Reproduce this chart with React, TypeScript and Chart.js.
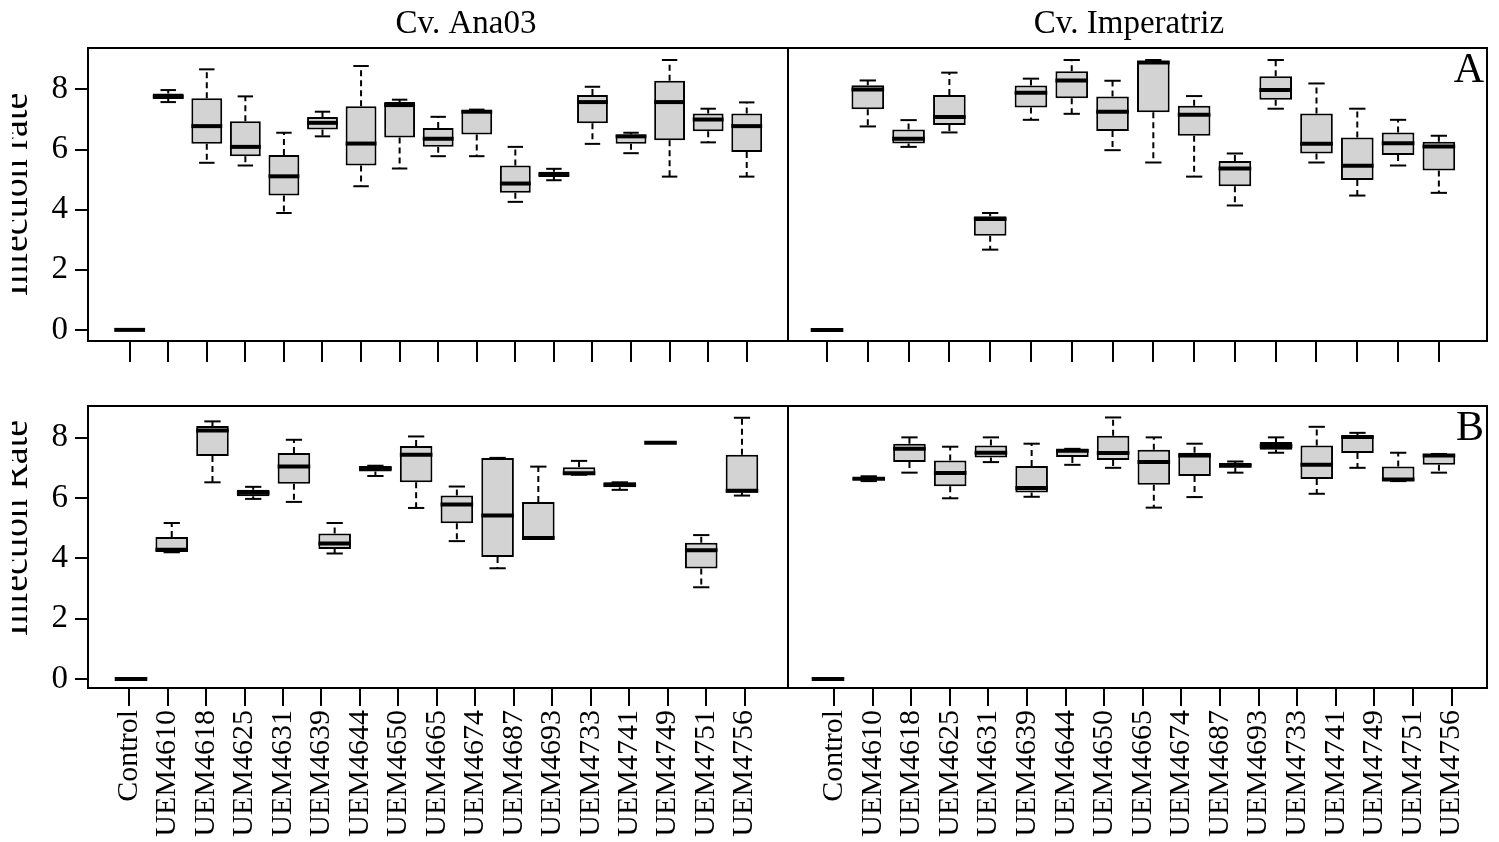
import React, { useEffect, useRef } from "react";
import { Chart, registerables } from "chart.js";

Chart.register(...registerables);

// ---------- data ----------
const CATEGORIES = [
  "Control", "UEM4610", "UEM4618", "UEM4625", "UEM4631", "UEM4639", "UEM4644", "UEM4650",
  "UEM4665", "UEM4674", "UEM4687", "UEM4693", "UEM4733", "UEM4741", "UEM4749", "UEM4751", "UEM4756",
];
const Y_TICKS = [0, 2, 4, 6, 8];
const CULTIVARS = ["Cv. Ana03", "Cv. Imperatriz"];
const PANEL_LETTERS = ["A", "B"];
const Y_TITLES = ["Infection rate", "\u00A0\u00A0\u00A0\u00A0Infection Rate"];

// Panel A, Cv. Ana03 (17 groups)
const A_ANA_LOW = [0, 7.58, 5.56, 5.47, 3.89, 6.44, 4.78, 5.37, 5.78, 5.78, 4.26, 4.98, 6.19, 5.88, 5.1, 6.24, 5.1];
const A_ANA_Q1 = [0, 7.68, 6.19, 5.78, 4.47, 6.67, 5.47, 6.4, 6.09, 6.5, 4.56, 5.09, 6.88, 6.19, 6.31, 6.61, 5.92];
const A_ANA_MED = [0, 7.76, 6.78, 6.09, 5.11, 6.89, 6.2, 7.48, 6.36, 7.26, 4.87, 5.17, 7.58, 6.44, 7.58, 7.0, 6.78];
const A_ANA_Q3 = [0, 7.87, 7.71, 6.94, 5.82, 7.08, 7.44, 7.58, 6.72, 7.3, 5.47, 5.26, 7.82, 6.5, 8.29, 7.2, 7.2];
const A_ANA_HIGH = [0, 7.98, 8.67, 7.77, 6.56, 7.26, 8.78, 7.66, 7.09, 7.33, 6.09, 5.36, 8.09, 6.56, 8.98, 7.36, 7.57];

// Panel A, Cv. Imperatriz (16 groups)
const A_IMP_LOW = [0, 6.77, 6.09, 6.57, 2.67, 6.99, 7.19, 5.98, 5.57, 5.1, 4.14, 7.36, 5.57, 4.47, 5.47, 4.56];
const A_IMP_Q1 = [0, 7.34, 6.2, 6.82, 3.13, 7.4, 7.71, 6.62, 7.24, 6.46, 4.78, 7.66, 5.87, 4.99, 5.82, 5.3];
const A_IMP_MED = [0, 8.0, 6.36, 7.08, 3.69, 7.89, 8.3, 7.26, 8.9, 7.16, 5.37, 7.98, 6.19, 5.46, 6.21, 6.1];
const A_IMP_Q3 = [0, 8.14, 6.67, 7.82, 3.78, 8.13, 8.61, 7.77, 8.95, 7.46, 5.62, 8.44, 7.2, 6.4, 6.57, 6.26];
const A_IMP_HIGH = [0, 8.3, 6.98, 8.56, 3.89, 8.36, 8.98, 8.29, 8.98, 7.78, 5.87, 8.98, 8.2, 7.36, 6.99, 6.46];

// Panel B, Cv. Ana03 (16 boxes)
const B_ANA_LOW = [0, 4.2, 6.52, 5.97, 5.87, 4.16, 6.73, 5.67, 4.57, 3.67, 4.64, 6.77, 6.27, 7.83, 3.04, 6.08];
const B_ANA_Q1 = [0, 4.21, 7.39, 6.06, 6.47, 4.31, 6.88, 6.52, 5.16, 4.04, 4.64, 6.77, 6.36, 7.83, 3.66, 6.17];
const B_ANA_MED = [0, 4.28, 8.24, 6.17, 7.04, 4.49, 6.98, 7.43, 5.78, 5.42, 4.67, 6.82, 6.44, 7.83, 4.27, 6.24];
const B_ANA_Q3 = [0, 4.71, 8.39, 6.27, 7.49, 4.82, 7.06, 7.72, 6.08, 7.33, 5.87, 7.02, 6.52, 7.83, 4.52, 7.43];
const B_ANA_HIGH = [0, 5.17, 8.54, 6.37, 7.93, 5.17, 7.07, 8.04, 6.38, 7.33, 7.04, 7.23, 6.52, 7.83, 4.77, 8.66];

// Panel B, Cv. Imperatriz (16 boxes)
const B_IMP_LOW = [0, 6.56, 6.84, 5.99, 7.19, 6.04, 7.1, 7.0, 5.68, 6.03, 6.84, 7.5, 6.14, 7.0, 6.56, 6.84];
const B_IMP_Q1 = [0, 6.6, 7.19, 6.39, 7.34, 6.18, 7.36, 7.26, 6.44, 6.73, 7.0, 7.6, 6.63, 7.49, 6.58, 7.1];
const B_IMP_MED = [0, 6.64, 7.63, 6.83, 7.5, 6.33, 7.57, 7.49, 7.19, 7.41, 7.08, 7.72, 7.1, 8.02, 6.61, 7.41];
const B_IMP_Q3 = [0, 6.68, 7.8, 7.24, 7.74, 7.06, 7.62, 8.06, 7.6, 7.5, 7.16, 7.86, 7.74, 8.06, 7.04, 7.46];
const B_IMP_HIGH = [0, 6.72, 8.01, 7.7, 8.01, 7.8, 7.63, 8.67, 8.01, 7.8, 7.21, 8.01, 8.36, 8.16, 7.5, 7.46];

// ---------- layout / style ----------
const W = 1499;
const H = 842;
const FONT = '"Liberation Serif", "Times New Roman", serif';

type Stats = { low: number[]; q1: number[]; med: number[]; q3: number[]; high: number[] };
type TextItem = { text: string; x: number; y: number; size: number; align: CanvasTextAlign };
type Panel = {
  stats: Stats;
  ox: number; // page x where this panel's canvas starts
  area: { left: number; top: number; right: number; bottom: number }; // page coords
  boxRange: [number, number];
  tickRange: [number, number];
  tickLabels: string[];
  showLabels: boolean;
  xAxisH: number;
  yRange: [number, number];
  showY: boolean;
  yTitle: string;
  tickLen: number;
  texts: TextItem[];
};

const PANELS: Panel[] = [
  {
    stats: { low: A_ANA_LOW, q1: A_ANA_Q1, med: A_ANA_MED, q3: A_ANA_Q3, high: A_ANA_HIGH },
    ox: 12,
    area: { left: 88, top: 48, right: 788, bottom: 341 },
    boxRange: [-1.08, 17.07],
    tickRange: [-1.08, 17.07],
    tickLabels: CATEGORIES,
    showLabels: false,
    xAxisH: 22,
    yRange: [-0.37, 9.38],
    showY: true,
    yTitle: Y_TITLES[0],
    tickLen: 21,
    texts: [{ text: CULTIVARS[0], x: 466, y: 33, size: 33, align: "center" }],
  },
  {
    stats: { low: A_IMP_LOW, q1: A_IMP_Q1, med: A_IMP_MED, q3: A_IMP_Q3, high: A_IMP_HIGH },
    ox: 0,
    area: { left: 788, top: 48, right: 1487, bottom: 341 },
    boxRange: [-0.956, 16.18],
    tickRange: [-0.956, 16.18],
    tickLabels: CATEGORIES.slice(0, A_IMP_MED.length),
    showLabels: false,
    xAxisH: 22,
    yRange: [-0.37, 9.38],
    showY: false,
    yTitle: "",
    tickLen: 21,
    texts: [
      { text: CULTIVARS[1], x: 1129, y: 33, size: 33, align: "center" },
      { text: PANEL_LETTERS[0], x: 1484, y: 82, size: 42, align: "right" },
    ],
  },
  {
    stats: { low: B_ANA_LOW, q1: B_ANA_Q1, med: B_ANA_MED, q3: B_ANA_Q3, high: B_ANA_HIGH },
    ox: 12,
    area: { left: 88, top: 406, right: 788, bottom: 688 },
    boxRange: [-1.056, 16.13],
    tickRange: [-1.07, 17.13],
    tickLabels: CATEGORIES,
    showLabels: true,
    xAxisH: 150,
    yRange: [-0.3, 9.05],
    showY: true,
    yTitle: Y_TITLES[1],
    tickLen: 18,
    texts: [],
  },
  {
    stats: { low: B_IMP_LOW, q1: B_IMP_Q1, med: B_IMP_MED, q3: B_IMP_Q3, high: B_IMP_HIGH },
    ox: 0,
    area: { left: 788, top: 406, right: 1487, bottom: 688 },
    boxRange: [-0.982, 16.18],
    tickRange: [-1.195, 16.92],
    tickLabels: CATEGORIES,
    showLabels: true,
    xAxisH: 150,
    yRange: [-0.3, 9.05],
    showY: false,
    yTitle: "",
    tickLen: 18,
    texts: [{ text: PANEL_LETTERS[1], x: 1484, y: 440, size: 42, align: "right" }],
  },
];

// ---------- plugins ----------
const framePlugin = {
  id: "frame",
  afterDatasetsDraw(chart: any) {
    const { ctx, chartArea: a } = chart;
    ctx.save();
    ctx.strokeStyle = "#000";
    ctx.lineWidth = 2;
    ctx.strokeRect(a.left, a.top, a.right - a.left, a.bottom - a.top);
    ctx.restore();
  },
};

const panelTextPlugin = {
  id: "panelText",
  afterDraw(chart: any, _args: any, opts: any) {
    const items: TextItem[] = (opts && opts.items) || [];
    const ctx = chart.ctx;
    ctx.save();
    ctx.fillStyle = "#000";
    ctx.textBaseline = "alphabetic";
    for (const it of items) {
      ctx.font = `${it.size}px ${FONT}`;
      ctx.textAlign = it.align;
      ctx.fillText(it.text, it.x, it.y);
    }
    ctx.restore();
  },
};

function unitPx(chart: any, u: number) {
  const sc = chart.scales.x;
  if (!sc) return 0;
  return Math.abs(sc.getPixelForValue(u) - sc.getPixelForValue(0));
}

function buildConfig(p: Panel): any {
  const s = p.stats;
  const cw = W - p.ox;
  const yAxisW = p.showY ? p.area.left - p.ox : 0;
  const boxData = s.q1.map((q, i) => ({ x: i, y: [q, s.q3[i]] }));
  const medData = s.med.map((m, i) => ({ x: i, y: m }));
  const capData = s.low.flatMap((l, i) => [
    { x: i, y: l },
    { x: i, y: s.high[i] },
  ]);
  const whiskerData = s.low.flatMap((l, i) => [
    { x: i, y: s.q3[i] },
    { x: i, y: s.high[i] },
    { x: i, y: null },
    { x: i, y: s.q1[i] },
    { x: i, y: l },
    { x: i, y: null },
  ]);
  const texts = p.texts.map((t) => ({ ...t, x: t.x - p.ox }));

  return {
    type: "bar",
    data: {
      datasets: [
        {
          type: "scatter",
          label: "median",
          data: medData,
          xAxisID: "x",
          yAxisID: "y",
          order: 0,
          pointStyle: "line",
          pointRadius: (c: any) => unitPx(c.chart, 0.4),
          pointBorderWidth: 4,
          pointBorderColor: "#000",
          pointBackgroundColor: "#000",
        },
        {
          type: "scatter",
          label: "caps",
          data: capData,
          xAxisID: "x",
          yAxisID: "y",
          order: 1,
          pointStyle: "line",
          pointRadius: (c: any) => unitPx(c.chart, 0.2),
          pointBorderWidth: 2,
          pointBorderColor: "#000",
        },
        {
          type: "line",
          label: "whiskers",
          data: whiskerData,
          xAxisID: "x",
          yAxisID: "y",
          order: 2,
          spanGaps: false,
          borderColor: "#000",
          borderWidth: 2,
          borderDash: [6, 4],
          pointRadius: 0,
          fill: false,
          tension: 0,
        },
        {
          type: "bar",
          label: "box",
          data: boxData,
          xAxisID: "x",
          yAxisID: "y",
          order: 3,
          backgroundColor: "#d3d3d3",
          borderColor: "#000",
          borderWidth: 2,
          borderSkipped: false,
          barPercentage: 0.8,
          categoryPercentage: 1,
        },
      ],
    },
    options: {
      responsive: false,
      animation: false,
      devicePixelRatio: 1,
      events: [],
      layout: {
        padding: {
          left: p.area.left - p.ox - yAxisW,
          right: W - p.area.right,
          top: p.area.top,
          bottom: H - p.area.bottom - p.xAxisH,
        },
      },
      plugins: {
        legend: { display: false },
        tooltip: { enabled: false },
        title: { display: false },
        panelText: { items: texts },
      },
      scales: {
        x: {
          type: "linear",
          display: false,
          min: p.boxRange[0],
          max: p.boxRange[1],
          bounds: "data",
          offset: false,
          grid: { offset: false },
          afterBuildTicks: (sc: any) => {
            sc.ticks = s.med.map((_v, i) => ({ value: i }));
          },
        },
        xl: {
          type: "linear",
          position: "bottom",
          min: p.tickRange[0],
          max: p.tickRange[1],
          bounds: "data",
          offset: false,
          afterBuildTicks: (sc: any) => {
            sc.ticks = p.tickLabels.map((_v, i) => ({ value: i }));
          },
          afterFit: (sc: any) => {
            sc.height = p.xAxisH;
          },
          grid: {
            offset: false,
            drawOnChartArea: false,
            drawTicks: true,
            tickLength: p.tickLen,
            color: "#000",
            lineWidth: 2,
          },
          border: { display: false },
          ticks: {
            display: p.showLabels,
            autoSkip: false,
            minRotation: 90,
            maxRotation: 90,
            padding: 4,
            color: "#000",
            font: { family: FONT, size: 30 },
            callback: (v: any) => p.tickLabels[v] ?? "",
          },
        },
        y: {
          type: "linear",
          position: "left",
          display: p.showY,
          min: p.yRange[0],
          max: p.yRange[1],
          bounds: "data",
          afterBuildTicks: (sc: any) => {
            sc.ticks = Y_TICKS.map((v) => ({ value: v }));
          },
          afterFit: (sc: any) => {
            if (p.showY) sc.width = yAxisW;
          },
          grid: {
            drawOnChartArea: false,
            drawTicks: true,
            tickLength: 13,
            color: "#000",
            lineWidth: 2,
          },
          border: { display: false },
          ticks: {
            color: "#000",
            padding: 7,
            font: { family: FONT, size: 33 },
          },
          title: {
            display: p.showY,
            text: p.yTitle,
            color: "#000",
            font: { family: FONT, size: 38 },
            padding: { top: -18, bottom: 0 },
          },
        },
      },
    },
    plugins: [framePlugin, panelTextPlugin],
  };
}

export default function App() {
  const r0 = useRef<HTMLCanvasElement>(null);
  const r1 = useRef<HTMLCanvasElement>(null);
  const r2 = useRef<HTMLCanvasElement>(null);
  const r3 = useRef<HTMLCanvasElement>(null);
  const refs = [r0, r1, r2, r3];

  useEffect(() => {
    const charts = PANELS.map((p, i) => new Chart(refs[i].current as HTMLCanvasElement, buildConfig(p)));
    return () => charts.forEach((c) => c.destroy());
  }, []);

  return (
    <div
      style={{
        position: "fixed",
        left: 0,
        top: 0,
        width: W,
        height: H,
        background: "#fff",
        overflow: "hidden",
      }}
    >
      {PANELS.map((p, i) => (
        <canvas
          key={i}
          ref={refs[i]}
          width={W - p.ox}
          height={H}
          style={{ position: "absolute", left: p.ox, top: 0, width: W - p.ox, height: H }}
        />
      ))}
    </div>
  );
}
